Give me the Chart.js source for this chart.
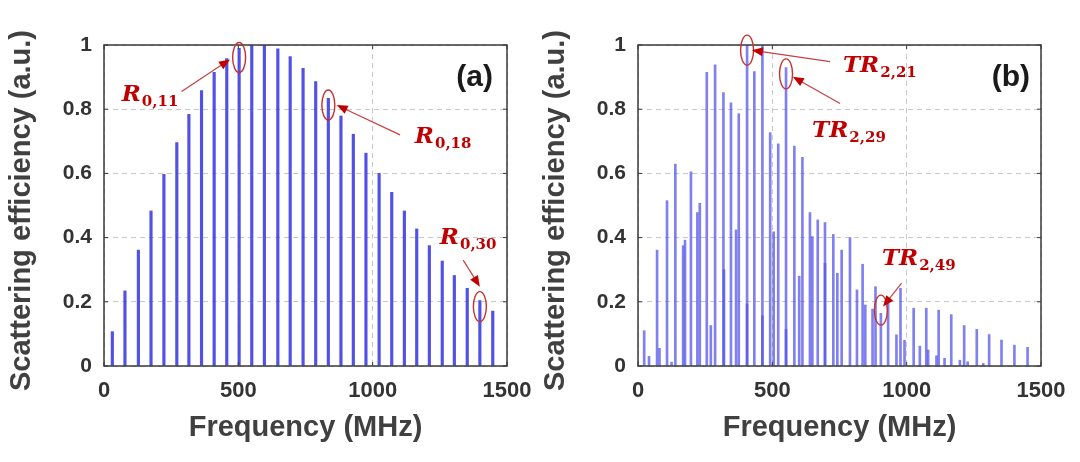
<!DOCTYPE html>
<html>
<head>
<meta charset="utf-8">
<script src="https://cdn.jsdelivr.net/npm/chart.js@4.4.1/dist/chart.umd.min.js"></script>
<style>
  html, body { margin: 0; padding: 0; background: #fff; }
  #wrap { position: relative; width: 1080px; height: 462px; overflow: hidden; }
  .panel { position: absolute; top: 0; width: 540px; height: 462px; }
</style>
</head>
<body>
<div id="wrap">
  <div class="panel" style="left:0"><canvas id="chart-a" width="540" height="462"></canvas></div>
  <div class="panel" style="left:534px"><canvas id="chart-b" width="540" height="462"></canvas></div>
</div>
<script>
// ── Data ──
const freqA = [31, 78, 128, 175, 223, 271, 316, 363, 410, 457, 503, 550, 597, 647, 693, 741,
  788, 835, 882, 928, 975, 1024, 1071, 1118, 1164, 1211, 1259, 1304, 1352, 1399, 1447];
const effA = [0.107, 0.234, 0.361, 0.483, 0.597, 0.696, 0.784, 0.858, 0.915, 0.958, 0.99, 1.0, 1.0, 0.988, 0.964, 0.927,
  0.886, 0.834, 0.779, 0.722, 0.663, 0.600, 0.541, 0.483, 0.427, 0.375, 0.327, 0.282, 0.242, 0.204, 0.171];

const freqB = [23, 41, 71, 80, 108, 125, 139, 168, 175, 197, 221, 230, 256, 271, 287, 318, 320, 346, 365, 375,
  406, 406, 433, 463, 463, 492, 505, 522, 551, 551, 582, 600, 612, 640, 649, 669, 696, 696, 727, 742,
  758, 789, 815, 836, 846, 873, 884, 904, 931, 962, 977, 992, 1026, 1049, 1073, 1080, 1111, 1119, 1141, 1166,
  1198, 1214, 1227, 1261, 1285, 1307, 1353, 1401, 1450];
const effB = [0.11, 0.03, 0.361, 0.055, 0.515, 0.012, 0.629, 0.375, 0.392, 0.605, 0.478, 0.507, 0.915, 0.126, 0.938, 0.852, 0.30, 0.82, 0.424, 0.786,
  1.0, 0.193, 0.917, 1.0, 0.157, 0.727, 0.418, 0.692, 0.93, 0.114, 0.685, 0.28, 0.65, 0.478, 0.403, 0.455, 0.447, 0.32, 0.41, 0.289,
  0.361, 0.40, 0.237, 0.317, 0.19, 0.177, 0.247, 0.164, 0.195, 0.097, 0.242, 0.08, 0.18, 0.062, 0.18, 0.05, 0.032, 0.174, 0.024, 0.16,
  0.018, 0.126, 0.013, 0.114, 0.008, 0.098, 0.081, 0.065, 0.058];

const xTickVals = [0, 500, 1000, 1500];
const yTickVals = [0, 0.2, 0.4, 0.6, 0.8, 1];
const xTitle = 'Frequency (MHz)';
const yTitle = 'Scattering efficiency (a.u.)';

// annotations, in data units (MHz, efficiency)
const notesA = [
  { ring: [503, 0.961], arrow: [[289, 0.855], [469, 0.955]], label: [66, 0.826], main: 'R', sub: '0,11' },
  { ring: [835, 0.813], arrow: [[1102, 0.72], [866, 0.813]], label: [1157, 0.695], main: 'R', sub: '0,18' },
  { ring: [1399, 0.185], arrow: [[1337, 0.33], [1399, 0.247]], label: [1250, 0.38], main: 'R', sub: '0,30' }
];
const notesB = [
  { ring: [406, 0.984], arrow: [[715, 0.948], [424, 0.984]], label: [763, 0.916], main: 'TR', sub: '2,21' },
  { ring: [551, 0.91], arrow: [[752, 0.818], [576, 0.901]], label: [648, 0.713], main: 'TR', sub: '2,29' },
  { ring: [904, 0.174], arrow: [[981, 0.258], [912, 0.185]], label: [908, 0.315], main: 'TR', sub: '2,49' }
];

const sansFont = '"Liberation Sans", Arial, sans-serif';

// ── Frame, inward ticks, y title and red notes ──
const matlabFrame = {
  id: 'matlabFrame',
  afterDraw(chart, args, opts) {
    const { ctx, chartArea: a, scales: { x, y } } = chart;
    ctx.save();

    ctx.strokeStyle = '#3a3a3a';
    ctx.lineWidth = 1;
    xTickVals.forEach(v => {
      const px = x.getPixelForValue(v);
      ctx.beginPath();
      ctx.moveTo(px, a.bottom); ctx.lineTo(px, a.bottom - 4);
      ctx.moveTo(px, a.top); ctx.lineTo(px, a.top + 4);
      ctx.stroke();
    });
    yTickVals.forEach(v => {
      const py = y.getPixelForValue(v);
      ctx.beginPath();
      ctx.moveTo(a.left, py); ctx.lineTo(a.left + 4, py);
      ctx.moveTo(a.right, py); ctx.lineTo(a.right - 4, py);
      ctx.stroke();
    });
    ctx.lineWidth = 1.5;
    ctx.strokeRect(a.left, a.top, a.right - a.left, a.bottom - a.top);

    // y axis title (drawn here so it is not squeezed to the plot height)
    ctx.save();
    ctx.translate(22, (a.top + a.bottom) / 2 + 5);
    ctx.rotate(-Math.PI / 2);
    ctx.font = 'bold 29px ' + sansFont;
    ctx.fillStyle = '#404040';
    ctx.textAlign = 'center';
    ctx.textBaseline = 'middle';
    ctx.fillText(yTitle, 0, 0);
    ctx.restore();

    // panel letter
    ctx.font = 'bold 30px ' + sansFont;
    ctx.fillStyle = '#1a1a1a';
    ctx.textAlign = 'right';
    ctx.textBaseline = 'alphabetic';
    ctx.fillText(opts.letter, x.getPixelForValue(opts.letterAt[0]), y.getPixelForValue(opts.letterAt[1]));

    // annotations
    const red = '#c00000';
    opts.notes.forEach(n => {
      const rx = x.getPixelForValue(n.ring[0]), ry = y.getPixelForValue(n.ring[1]);
      ctx.strokeStyle = '#c83030';
      ctx.lineWidth = 1.4;
      ctx.beginPath();
      ctx.ellipse(rx, ry, 6.5, 15, 0, 0, Math.PI * 2);
      ctx.stroke();

      const x0 = x.getPixelForValue(n.arrow[0][0]), y0 = y.getPixelForValue(n.arrow[0][1]);
      const x1 = x.getPixelForValue(n.arrow[1][0]), y1 = y.getPixelForValue(n.arrow[1][1]);
      const ang = Math.atan2(y1 - y0, x1 - x0);
      ctx.strokeStyle = '#c84040';
      ctx.lineWidth = 1.2;
      ctx.beginPath();
      ctx.moveTo(x0, y0);
      ctx.lineTo(x1 - 8 * Math.cos(ang), y1 - 8 * Math.sin(ang));
      ctx.stroke();
      ctx.fillStyle = red;
      ctx.beginPath();
      ctx.moveTo(x1, y1);
      ctx.lineTo(x1 - 11 * Math.cos(ang) + 4.5 * Math.sin(ang), y1 - 11 * Math.sin(ang) - 4.5 * Math.cos(ang));
      ctx.lineTo(x1 - 11 * Math.cos(ang) - 4.5 * Math.sin(ang), y1 - 11 * Math.sin(ang) + 4.5 * Math.cos(ang));
      ctx.closePath();
      ctx.fill();

      const lx = x.getPixelForValue(n.label[0]), ly = y.getPixelForValue(n.label[1]);
      ctx.textAlign = 'left';
      ctx.font = 'italic bold 23px "DejaVu Serif", serif';
      ctx.fillText(n.main, lx, ly);
      const w = ctx.measureText(n.main).width;
      ctx.font = 'bold 15px "DejaVu Serif", serif';
      ctx.fillText(n.sub, lx + w + 1, ly + 5);
    });
    ctx.restore();
  }
};

function panelConfig(freq, eff, barColor, barWidth, notes, letter, letterAt) {
  return {
    type: 'bar',
    data: {
      datasets: [{
        data: freq.map((f, i) => ({ x: f, y: eff[i] })),
        backgroundColor: barColor,
        borderWidth: 0,
        barThickness: barWidth
      }]
    },
    options: {
      responsive: false,
      animation: false,
      layout: { padding: { top: 45, right: 33, left: 0, bottom: 0 } },
      plugins: {
        legend: { display: false },
        tooltip: { enabled: false },
        matlabFrame: { notes, letter, letterAt }
      },
      scales: {
        x: {
          type: 'linear', min: 0, max: 1500, offset: false,
          afterBuildTicks: s => { s.ticks = xTickVals.map(v => ({ value: v })); },
          afterFit: s => { s.height = 96; s.paddingLeft = 0; s.paddingRight = 0; },
          ticks: { color: '#333', padding: 12, callback: v => String(v),
            font: { size: 22, weight: 'bold', family: sansFont } },
          grid: { color: '#c8c8c8', lineWidth: 1, drawTicks: false, offset: false },
          border: { display: false, dash: [5, 4] },
          title: { display: true, text: xTitle, color: '#404040', padding: { top: 0, bottom: 17 },
            font: { size: 29, weight: 'bold', family: sansFont } }
        },
        y: {
          min: 0, max: 1,
          afterBuildTicks: s => { s.ticks = yTickVals.map(v => ({ value: v })); },
          afterFit: s => { s.width = 104; s.paddingTop = 0; s.paddingBottom = 0; },
          ticks: { color: '#333', padding: 12, callback: v => String(+v.toFixed(1)),
            font: { size: 21, weight: 'bold', family: sansFont } },
          grid: { color: '#c8c8c8', lineWidth: 1, drawTicks: false },
          border: { display: false, dash: [5, 4] }
        }
      }
    },
    plugins: [matlabFrame]
  };
}

new Chart(document.getElementById('chart-a'),
  panelConfig(freqA, effA, 'rgba(62,62,226,0.9)', 2.5, notesA, '(a)', [1448, 0.872]));
new Chart(document.getElementById('chart-b'),
  panelConfig(freqB, effB, 'rgba(85,85,235,0.75)', 2, notesB, '(b)', [1459, 0.872]));
</script>
</body>
</html>
